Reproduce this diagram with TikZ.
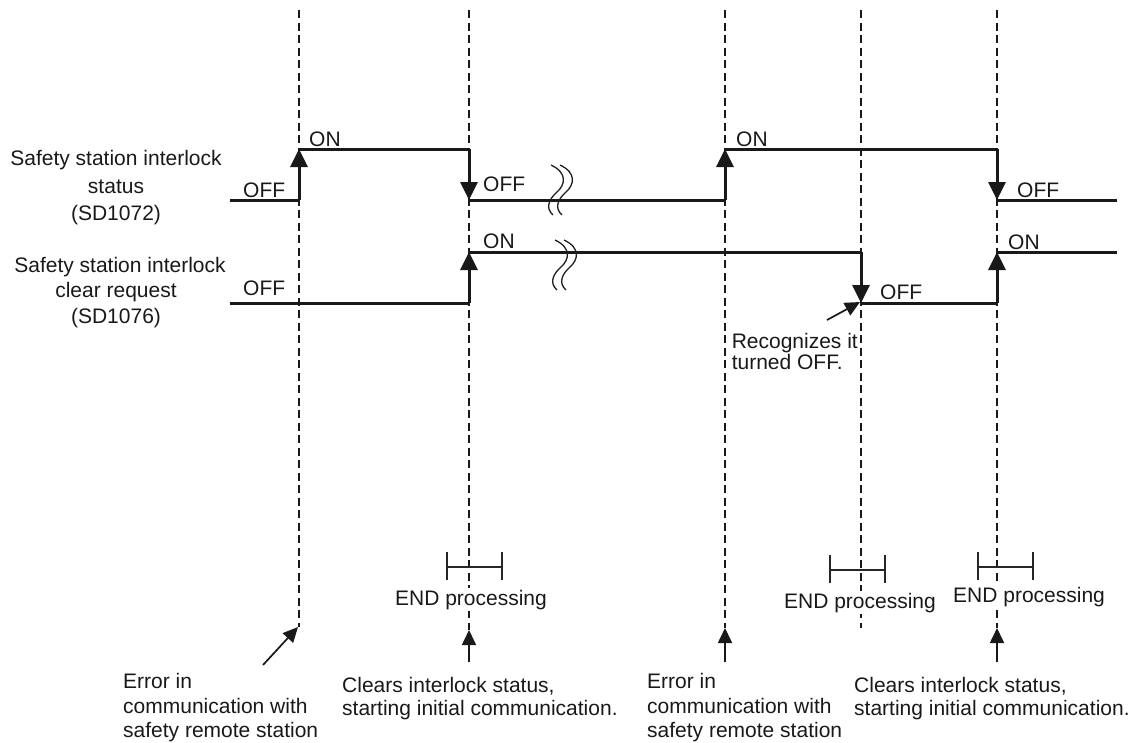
\documentclass[tikz,border=0pt]{standalone}
\usepackage{fontspec}
\setmainfont{Liberation Sans}
\usetikzlibrary{arrows.meta}
\begin{document}
\begin{tikzpicture}[x=1pt,y=-1pt,
  sig/.style={line width=3pt, color=black!90},
  tr/.style={line width=3pt, color=black!90, -{Triangle[length=18pt,width=17pt]}},
  guide/.style={line width=2.7pt, color=black!90, dash pattern=on 8pt off 4.5pt},
  ptr/.style={line width=1.7pt, color=black!90, -{Triangle[length=15pt,width=14pt]}},
  brk/.style={line width=1.6pt, color=black!85},
  wave/.style={line width=1.3pt, color=black!88},
  lbl/.style={font=\fontsize{21}{24}\selectfont, inner sep=0pt, text=black!90},
  endlbl/.style={lbl, fill=white, inner xsep=1pt, inner ysep=2pt}
]
\useasboundingbox (0,0) rectangle (1139,742);
% guide coordinates
\foreach \n/\x/\b in {1/299/627, 2/469/630, 3/725/628, 4/861/628, 5/997/628}{
  \coordinate (L\n top) at (\x,10);
  \coordinate (L\n bot) at (\x,\b);
}
% dashed guides
\foreach \n in {1,...,5}{ \draw[guide] (L\n top) -- (L\n bot); }

% level coordinates
\coordinate (a0s) at (230,200);
\coordinate (a0L1) at (299,200); \coordinate (a1L1) at (299,149);
\coordinate (a1L2) at (469,149); \coordinate (a0L2) at (469,200);
\coordinate (a0L3) at (725,200); \coordinate (a1L3) at (725,149);
\coordinate (a1L5) at (997,149); \coordinate (a0L5) at (997,200);
\coordinate (a0e) at (1117,200);
\coordinate (b0s) at (230,303);
\coordinate (b0L2) at (469,303); \coordinate (b1L2) at (469,252);
\coordinate (b1L4) at (861,252); \coordinate (b0L4) at (861,303);
\coordinate (b0L5) at (997,303); \coordinate (b1L5) at (997,252);
\coordinate (b1e) at (1117,252);

% row 1 signal
\draw[sig] (a0s) -- (a0L1);
\draw[tr] (a0L1) -- (a1L1);
\draw[sig] (a1L1) -- (a1L2);
\draw[tr] (a1L2) -- (a0L2);
\draw[sig] (a0L2) -- (a0L3);
\draw[tr] (a0L3) -- (a1L3);
\draw[sig] (a1L3) -- (a1L5);
\draw[tr] (a1L5) -- (a0L5);
\draw[sig] (a0L5) -- (a0e);
% row 2 signal
\draw[sig] (b0s) -- (b0L2);
\draw[tr] (b0L2) -- (b1L2);
\draw[sig] (b1L2) -- (b1L4);
\draw[tr] (b1L4) -- (b0L4);
\draw[sig] (b0L4) -- (b0L5);
\draw[tr] (b0L5) -- (b1L5);
\draw[sig] (b1L5) -- (b1e);

% break marks
\foreach \dx/\dy in {0/0, 9/0, 4/75, 13/75}{
  \draw[wave] (551+\dx,165+\dy) .. controls (568+\dx,173+\dy) and (565+\dx,185+\dy) .. (557+\dx,192+\dy)
              .. controls (549+\dx,199+\dy) and (545+\dx,208+\dy) .. (553+\dx,215+\dy);
}

% level labels
\node[lbl, anchor=base west] (off1) at (243,197) {OFF};
\node[lbl, anchor=base west] (on1) at (309,146) {ON};
\node[lbl, anchor=base west] (off2) at (483,191) {OFF};
\node[lbl, anchor=base west] (on2) at (736,146) {ON};
\node[lbl, anchor=base west] (off3) at (1017,197) {OFF};
\node[lbl, anchor=base west] (off4) at (243,295) {OFF};
\node[lbl, anchor=base west] (on3) at (483,248) {ON};
\node[lbl, anchor=base west] (off5) at (880,299) {OFF};
\node[lbl, anchor=base west] (on4) at (1008,249) {ON};

% signal names
\node[lbl, anchor=base] (s1a) at (116,165) {Safety station interlock};
\node[lbl, anchor=base] (s1b) at (116,193) {status};
\node[lbl, anchor=base] (s1c) at (116,220) {(SD1072)};
\node[lbl, anchor=base] (s2a) at (120,272) {Safety station interlock};
\node[lbl, anchor=base] (s2b) at (116,297) {clear request};
\node[lbl, anchor=base] (s2c) at (116,323) {(SD1076)};

% recognizes note
\coordinate (recTail) at (827,320);
\coordinate (recTip) at (860,302);
\draw[ptr] (recTail) -- (recTip);
\node[lbl, anchor=base east] (rec1) at (858,348) {Recognizes it};
\node[lbl, anchor=base west] (rec2) at ([yshift=-21pt]rec1.base west) {turned OFF.};

% END processing brackets
\foreach \l/\r/\y in {447/502/567, 830/885/570, 978/1033/567}{
  \draw[brk] (\l,\y-15) -- (\l,\y+13) (\l,\y) -- (\r,\y) (\r,\y-15) -- (\r,\y+13);
}
\node[endlbl, anchor=base] (end2) at (471,605) {END processing};
\node[endlbl, anchor=base] (end4) at (860,608) {END processing};
\node[endlbl, anchor=base west] (end5) at (952,602) {END processing};

% bottom pointers
\coordinate (p1) at (263,665);
\coordinate (p2) at (469,662);
\coordinate (p3) at (725,662);
\coordinate (p5) at (997,662);
\draw[ptr] (p1) -- ([xshift=-1pt]L1bot);
\draw[ptr] (p2) -- (L2bot);
\draw[ptr] (p3) -- (L3bot);
\draw[ptr] (p5) -- (L5bot);

% bottom notes
\node[lbl, anchor=base west] (e1a) at (123,688) {Error in};
\node[lbl, anchor=base west] (e1b) at (123,713) {communication with};
\node[lbl, anchor=base west] (e1c) at (123,737) {safety remote station};
\node[lbl, anchor=base west] (c1a) at (342,692) {Clears interlock status,};
\node[lbl, anchor=base west] (c1b) at (342,715) {starting initial communication.};
\node[lbl, anchor=base west] (e2a) at (647,688) {Error in};
\node[lbl, anchor=base west] (e2b) at (647,713) {communication with};
\node[lbl, anchor=base west] (e2c) at (647,737) {safety remote station};
\node[lbl, anchor=base west] (c2a) at (854,692) {Clears interlock status,};
\node[lbl, anchor=base west] (c2b) at (854,715) {starting initial communication.};
\end{tikzpicture}
\end{document}
